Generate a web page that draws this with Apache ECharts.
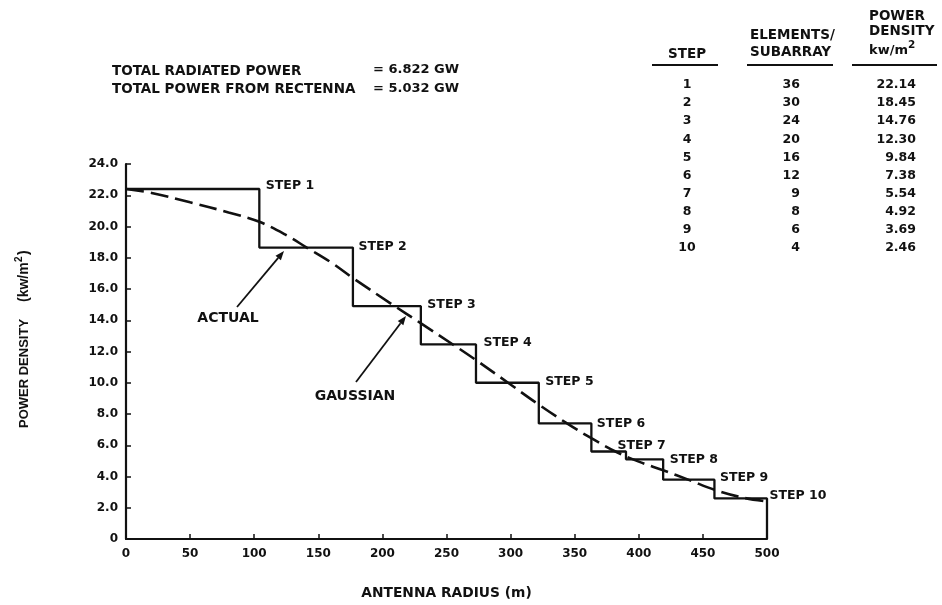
<!DOCTYPE html>
<html>
<head>
<meta charset="utf-8">
<script src="https://cdn.jsdelivr.net/npm/echarts@6/dist/echarts.min.js"></script>
<style>
html,body{margin:0;padding:0;background:#fff;}
#chart{width:942px;height:605px;}
</style>
</head>
<body>
<div id="chart"></div>
<script>
// ---- data ----
const stepStarts = [0, 104, 177, 230, 273, 322, 363, 390, 419, 459];
const stepLevels = [22.4, 18.65, 14.9, 12.45, 10.0, 7.4, 5.6, 5.1, 3.8, 2.6];
const radiusEnd = 500;
const stepNames = ['STEP 1','STEP 2','STEP 3','STEP 4','STEP 5','STEP 6','STEP 7','STEP 8','STEP 9','STEP 10'];

const gaussR = [0, 20, 50, 80, 104, 125, 141, 160, 177, 206, 231, 255, 273, 298, 322, 344, 363, 383, 400, 419, 440, 459, 481, 500];
const gaussV = [22.4, 22.15, 21.55, 20.9, 20.3, 19.45, 18.65, 17.7, 16.7, 15.1, 13.75, 12.45, 11.45, 10.0, 8.6, 7.4, 6.45, 5.55, 4.95, 4.4, 3.75, 3.15, 2.65, 2.4];

const xTicks = [0, 50, 100, 150, 200, 250, 300, 350, 400, 450, 500];
const yTicks = [0, 2, 4, 6, 8, 10, 12, 14, 16, 18, 20, 22, 24];

const tableSteps = ['1','2','3','4','5','6','7','8','9','10'];
const tableElements = ['36','30','24','20','16','12','9','8','6','4'];
const tableDensity = ['22.14','18.45','14.76','12.30','9.84','7.38','5.54','4.92','3.69','2.46'];

const totals = [
  ['TOTAL RADIATED POWER', '= 6.822 GW'],
  ['TOTAL POWER FROM RECTENNA', '= 5.032 GW']
];

// ---- styling / layout ----
const INK = '#111';
const FONT = '"DejaVu Sans", sans-serif';
const LIB = '"Liberation Sans", sans-serif';
const labelOffsets = [[6,-3],[5,-1],[6,-1],[7,-2],[6,-1],[5,0],[-9,-6],[6,0],[5,-2],[2,-3]];

const chart = echarts.init(document.getElementById('chart'), null, {renderer:'canvas'});

function txt(x, y, text, size, align, fam, rot) {
  return {
    type: 'text', x: x, y: y, rotation: rot || 0, silent: true,
    style: {
      text: text, fill: INK,
      font: 'bold ' + size + 'px ' + (fam || FONT),
      textAlign: align || 'left', align: align || 'left',
      textVerticalAlign: 'middle', verticalAlign: 'middle'
    }
  };
}
function hline(x1, x2, y, w) {
  return {type:'line', silent:true, shape:{x1:x1,y1:y,x2:x2,y2:y}, style:{stroke:INK, lineWidth:w||2}};
}
function arrow(x1, y1, x2, y2) {
  const a = Math.atan2(y2 - y1, x2 - x1);
  const L = 9, W = 3.5;
  const bx = x2 - L * Math.cos(a), by = y2 - L * Math.sin(a);
  const px = -Math.sin(a) * W, py = Math.cos(a) * W;
  return [
    {type:'line', silent:true, shape:{x1:x1,y1:y1,x2:bx,y2:by}, style:{stroke:INK, lineWidth:1.8}},
    {type:'polygon', silent:true, shape:{points:[[x2,y2],[bx+px,by+py],[bx-px,by-py]]}, style:{fill:INK}}
  ];
}

const graphics = [];
// totals
totals.forEach((t, i) => {
  graphics.push(txt(112, 71 + i * 18.5, t[0], 13.5));
  graphics.push(txt(373, 70 + i * 18.5, t[1], 13));
});
// table header
graphics.push(txt(668, 54, 'STEP', 13.5));
graphics.push(txt(750, 35, 'ELEMENTS/', 13.5));
graphics.push(txt(750, 52, 'SUBARRAY', 13.5));
graphics.push(txt(869, 16, 'POWER', 13.5));
graphics.push(txt(869, 31, 'DENSITY', 13.5));
graphics.push(txt(869, 51, 'kw/m', 13));
graphics.push(txt(908, 45, '2', 10.5));
graphics.push(hline(652, 718, 65, 2));
graphics.push(hline(747, 833, 65, 2));
graphics.push(hline(852, 937, 65, 2));
// table rows
tableSteps.forEach((s, i) => {
  const y = 85 + i * 18.1;
  graphics.push(txt(687, y, s, 12.5, 'center'));
  graphics.push(txt(800, y, tableElements[i], 12.5, 'right'));
  graphics.push(txt(916, y, tableDensity[i], 12.5, 'right'));
});
// y axis name (rotated, reads bottom to top)
graphics.push(txt(24, 428, 'POWER DENSITY', 13, 'left', LIB, Math.PI / 2));
graphics.push(txt(24, 302, '(kw/m', 14, 'left', LIB, Math.PI / 2));
graphics.push(txt(19, 262, '2', 10, 'left', LIB, Math.PI / 2));
graphics.push(txt(24, 255, ')', 14, 'left', LIB, Math.PI / 2));
// annotations
graphics.push(txt(228, 318, 'ACTUAL', 14, 'center'));
graphics.push(txt(355, 396, 'GAUSSIAN', 14, 'center'));
arrow(237, 307, 284, 251).forEach(g => graphics.push(g));
arrow(356, 382, 406, 316).forEach(g => graphics.push(g));

// step series data
const stepData = stepStarts.map((x, i) => [x, stepLevels[i]]).concat([[radiusEnd, 0]]);
const cornerData = stepLevels.map((v, i) => [i < stepStarts.length - 1 ? stepStarts[i + 1] : radiusEnd, v]);
const gaussData = gaussR.map((r, i) => [r, gaussV[i]]);

const option = {
  backgroundColor: '#fff',
  animation: false,
  grid: { left: 126, right: 175, top: 164, bottom: 60 },
  xAxis: {
    type: 'value', min: xTicks[0], max: xTicks[xTicks.length - 1], interval: 50,
    name: 'ANTENNA RADIUS (m)', nameLocation: 'middle', nameGap: 47,
    nameTextStyle: { color: INK, fontFamily: FONT, fontWeight: 'bold', fontSize: 13.8 },
    axisLine: { show: true, onZero: false, lineStyle: { color: INK, width: 2.2 } },
    axisTick: { show: true, inside: true, length: 5, lineStyle: { color: INK, width: 1.5 } },
    axisLabel: { color: INK, fontFamily: FONT, fontWeight: 'bold', fontSize: 12, margin: 9 },
    splitLine: { show: false }
  },
  yAxis: {
    type: 'value', min: yTicks[0], max: yTicks[yTicks.length - 1], interval: 2,
    axisLine: { show: true, onZero: false, lineStyle: { color: INK, width: 2.2 } },
    axisTick: { show: true, inside: true, length: 5, lineStyle: { color: INK, width: 1.5 } },
    axisLabel: { color: INK, fontFamily: FONT, fontWeight: 'bold', fontSize: 12, margin: 8,
      formatter: v => (v === 0 ? '0' : v.toFixed(1)) },
    splitLine: { show: false }
  },
  series: [
    {
      name: 'ACTUAL', type: 'line', step: 'end', data: stepData,
      symbol: 'none', lineStyle: { color: INK, width: 2.3 }, z: 3
    },
    {
      name: 'GAUSSIAN', type: 'line', smooth: 0.35, data: gaussData,
      symbol: 'none', lineStyle: { color: INK, width: 2.6, type: [18, 7] }, z: 4
    },
    {
      name: 'labels', type: 'scatter', data: cornerData, symbol: 'circle', symbolSize: 1, silent: true,
      itemStyle: { color: 'rgba(0,0,0,0)', opacity: 1 }, z: 5,
      label: {
        show: true, position: 'right', distance: 0, color: INK, opacity: 1,
        fontFamily: FONT, fontWeight: 'bold', fontSize: 12.5,
        formatter: p => stepNames[p.dataIndex]
      },
      labelLayout: p => ({ dx: labelOffsets[p.dataIndex][0], dy: labelOffsets[p.dataIndex][1], hideOverlap: false })
    }
  ],
  graphic: { elements: graphics }
};
chart.setOption(option);
</script>
</body>
</html>
